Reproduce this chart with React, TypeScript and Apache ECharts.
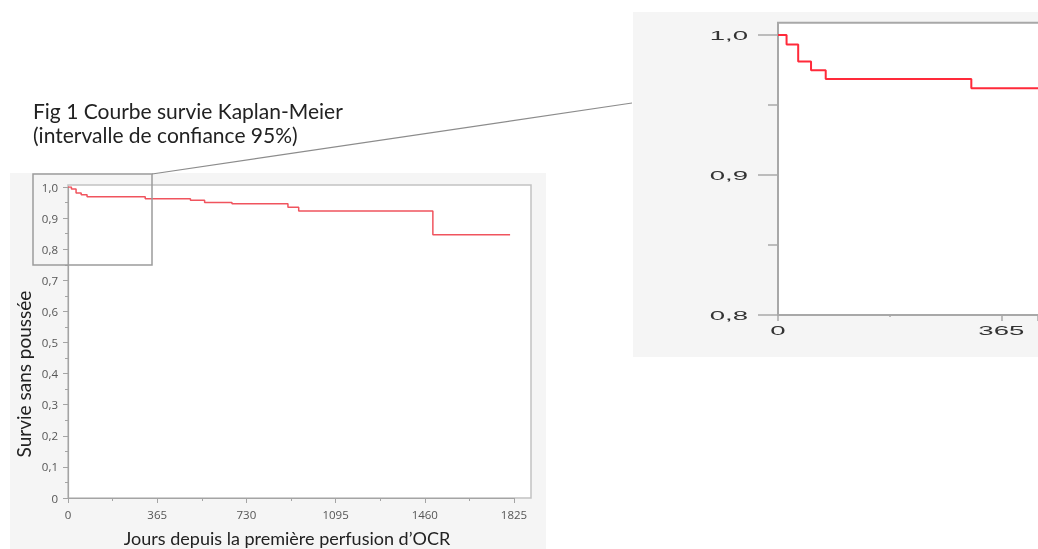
import React, { useEffect, useRef } from "react";
import * as echarts from "echarts";

// Kaplan-Meier estimate: day of each step and survival from that day on
const days = [0, 14, 33, 54, 78, 316, 501, 559, 671, 900, 944, 1493, 1809];
const survival = [1.0, 0.9933, 0.981, 0.9748, 0.9686, 0.962, 0.957, 0.9505, 0.9462, 0.935, 0.9228, 0.8466, 0.8466];

const mainXMax = 1825;
const mainXInterval = 365;
const mainYInterval = 0.1;
const insetXMax = 425;
const insetYTicks = [0.8, 0.9, 1.0];
const insetXTicks = [0, 365];
const insetXMinorTicks = [182.5];

const titleLines = ["Fig 1 Courbe survie Kaplan-Meier", "(intervalle de confiance 95%)"];
const xName = "Jours depuis la première perfusion d’OCR";
const yName = "Survie sans poussée";

const fmtY = (v: number) => (Math.abs(v) < 1e-9 ? "0" : v.toFixed(1).replace(".", ","));

export default function App() {
  const ref = useRef<HTMLDivElement>(null);
  useEffect(() => {
    if (!ref.current) return;
    const chart = echarts.init(ref.current, undefined, { renderer: "svg" });
    const data = days.map((d, i) => [d, survival[i]]);
    const axisGray = "#a4a4a4";
    const insetGray = "#a8a8a8";
    const labelFont = "'Open Sans', sans-serif";
    const nameFont = "Lato, 'Open Sans', sans-serif";

    const staticGraphic: any[] = [
      { type: "rect", z: -10, shape: { x: 10, y: 173, width: 536, height: 376 }, style: { fill: "#f5f5f5" } },
      { type: "rect", z: -9, shape: { x: 68, y: 185, width: 463, height: 313 }, style: { fill: "#ffffff", stroke: "#c2c2c2", lineWidth: 1.5 } },
      { type: "rect", z: -10, shape: { x: 633, y: 12, width: 405, height: 345 }, style: { fill: "#f5f5f5" } },
      { type: "rect", z: -9, shape: { x: 778, y: 22.7, width: 500, height: 292.3 }, style: { fill: "#ffffff", stroke: insetGray, lineWidth: 2 } },
      { type: "rect", z: 50, shape: { x: 33, y: 174, width: 119, height: 91 }, style: { fill: "none", stroke: "#9c9c9c", lineWidth: 1.5 } },
      { type: "line", z: 50, shape: { x1: 152, y1: 174, x2: 632, y2: 103 }, style: { stroke: "#8c8c8c", lineWidth: 1.2 } },
      {
        type: "text",
        z: 50,
        x: 33,
        y: 98,
        style: {
          text: titleLines.join("\n"),
          fontFamily: nameFont,
          fontSize: 21,
          lineHeight: 24,
          fill: "#222222",
        },
      },
      {
        type: "text",
        z: 50,
        x: 23,
        y: 374,
        rotation: Math.PI / 2,
        style: {
          text: yName,
          align: "center",
          verticalAlign: "middle",
          fontFamily: nameFont,
          fontSize: 19,
          fill: "#222222",
        },
      },
    ];

    const option: any = {
      animation: false,
      grid: [
        { left: 68, top: 187, width: 446, height: 311, show: false, containLabel: false, outerBoundsMode: "none" },
        { left: 778, top: 35, width: 260, height: 280, show: false, containLabel: false, outerBoundsMode: "none" },
      ],
      xAxis: [
        {
          gridIndex: 0,
          type: "value",
          position: "bottom",
          min: 0,
          max: mainXMax,
          interval: mainXInterval,
          name: xName,
          nameLocation: "middle",
          nameGap: 31,
          nameTextStyle: { fontFamily: nameFont, fontSize: 18, color: "#222", padding: [0, 8, 0, 0] },
          axisLine: { lineStyle: { color: axisGray, width: 1.2 } },
          axisTick: { length: 5, lineStyle: { color: axisGray } },
          minorTick: { show: true, splitNumber: 2, length: 3, lineStyle: { color: axisGray } },
          splitLine: { show: false },
          axisLabel: { margin: 10, fontSize: 11.5, color: "#555", fontFamily: labelFont, formatter: (v: number) => String(v) },
        },
        {
          gridIndex: 1,
          type: "value",
          position: "bottom",
          min: 0,
          max: insetXMax,
          interval: 365,
          axisLine: { lineStyle: { color: insetGray, width: 2 } },
          axisTick: { length: 6, lineStyle: { color: insetGray, width: 1.5 } },
          minorTick: { show: false },
          splitLine: { show: false },
          axisLabel: { show: false },
        },
        {
          gridIndex: 1,
          type: "value",
          position: "bottom",
          min: 0,
          max: insetXMax,
          axisLine: { show: false },
          axisTick: { show: true, customValues: insetXMinorTicks, length: 2, lineStyle: { color: insetGray, width: 1.5 } },
          splitLine: { show: false },
          axisLabel: { show: false },
        },
      ],
      yAxis: [
        {
          gridIndex: 0,
          type: "value",
          min: 0,
          max: 1,
          interval: mainYInterval,
          axisLine: { show: true, lineStyle: { color: axisGray, width: 1.2 } },
          axisTick: { show: true, length: 5, lineStyle: { color: axisGray } },
          minorTick: { show: true, splitNumber: 2, length: 3, lineStyle: { color: axisGray } },
          splitLine: { show: false },
          axisLabel: { margin: 10, fontSize: 11.5, color: "#555", fontFamily: labelFont, formatter: fmtY },
        },
        {
          gridIndex: 1,
          type: "value",
          min: 0.8,
          max: 1.0,
          interval: 0.1,
          axisLine: { show: true, lineStyle: { color: insetGray, width: 2 } },
          axisTick: { show: true, length: 20, lineStyle: { color: insetGray, width: 1.5 } },
          minorTick: { show: true, splitNumber: 2, length: 10, lineStyle: { color: insetGray, width: 1.5 } },
          splitLine: { show: false },
          axisLabel: { show: false },
        },
      ],
      series: [
        {
          type: "line",
          xAxisIndex: 0,
          yAxisIndex: 0,
          data,
          step: "end",
          showSymbol: false,
          lineStyle: { color: "#f0545e", width: 1.5 },
        },
        {
          type: "line",
          xAxisIndex: 1,
          yAxisIndex: 1,
          data,
          step: "end",
          showSymbol: false,
          lineStyle: { color: "#ff2a3a", width: 2 },
        },
      ],
      graphic: staticGraphic,
    };
    chart.setOption(option);

    const labelGraphic: any[] = [];
    insetYTicks.forEach((v) => {
      const p = chart.convertToPixel({ gridIndex: 1 } as any, [0, v]) as number[];
      labelGraphic.push({
        type: "text",
        z: 50,
        x: p[0] - 30,
        y: p[1] + 1,
        scaleX: 2.3,
        style: { text: fmtY(v), align: "right", verticalAlign: "middle", fontFamily: "'Liberation Sans', sans-serif", fontSize: 12, fill: "#333" },
      });
    });
    insetXTicks.forEach((v) => {
      const p = chart.convertToPixel({ gridIndex: 1 } as any, [v, 0.8]) as number[];
      labelGraphic.push({
        type: "text",
        z: 50,
        x: p[0],
        y: p[1] + 16,
        scaleX: 2.3,
        style: { text: String(v), align: "center", verticalAlign: "middle", fontFamily: "'Liberation Sans', sans-serif", fontSize: 12, fill: "#333" },
      });
    });
    chart.setOption({ graphic: [...staticGraphic, ...labelGraphic] });

    return () => chart.dispose();
  }, []);
  return <div ref={ref} style={{ position: "fixed", left: 0, top: 0, width: 1038, height: 549 }} />;
}
